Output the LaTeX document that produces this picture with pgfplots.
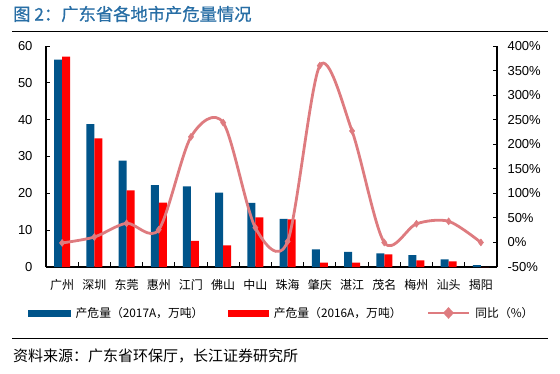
\documentclass[border=0pt]{standalone}
\usepackage{pgfplots}
\pgfplotsset{compat=1.18}
\usepackage{fontspec}
\setmainfont{Liberation Sans}
\newfontfamily\cjk{Noto Sans CJK SC}
\newfontfamily\cjktitle[FakeBold=0.8]{Noto Sans CJK SC}
\definecolor{barblue}{RGB}{0,84,138}
\definecolor{barred}{RGB}{255,0,0}
\definecolor{linec}{RGB}{222,123,127}
\definecolor{titleblue}{RGB}{40,110,165}
\pgfplotstableread{
x b17 r16 g
0 56.3 57.1 -1
1 38.8 34.9 11
2 28.9 20.8 39
3 22.2 17.5 26
4 21.9 7.1 215
5 20.2 5.9 244
6 17.4 13.5 30
7 13.1 12.9 2
8 4.8 1.2 360
9 4.1 1.2 227
10 3.7 3.4 0
11 3.2 1.8 38
12 2.1 1.5 43
13 0.5 0.0 0
}\datatable
\begin{document}
\begin{tikzpicture}
\path (0pt,0pt) rectangle (560pt,373pt);
\node[anchor=west, font=\cjktitle\fontsize{17.3}{19}\selectfont, text=titleblue, inner sep=0] at (13pt,359pt) {图 2：广东省各地市产危量情况};
\draw[line width=1.5pt] (12pt,341.5pt) -- (548pt,341.5pt);
\draw[line width=0.9pt] (12pt,35pt) -- (548pt,35pt);
\node[anchor=west, font=\cjk\fontsize{15}{17}\selectfont, inner sep=0] at (13pt,17pt) {资料来源：广东省环保厅，长江证券研究所};
\begin{axis}[at={(46pt,106pt)}, anchor=south west, scale only axis,
  width=451pt, height=221pt,
  xmin=-0.5, xmax=13.5, ymin=0, ymax=60, ytick={0,10,...,60},
  axis x line*=bottom, axis y line*=left,
  axis line style={line width=1.2pt, -},
  xtick={0,...,13},
  xticklabels={广州,深圳,东莞,惠州,江门,佛山,中山,珠海,肇庆,湛江,茂名,梅州,汕头,揭阳},
  major x tick style={draw=none},
  minor xtick={0.5,1.5,...,12.5},
  minor x tick style={line width=1pt, black},
  minor tick length=5pt,
  major tick length=4pt,
  y tick style={line width=1pt, black},
  tick align=inside,
  xticklabel style={font=\cjk\fontsize{12}{14}\selectfont, yshift=-9pt},
  yticklabel style={font=\fontsize{13}{15}\selectfont, xshift=-10pt},
  /pgf/number format/assume math mode=true,
  clip=false]
\addplot[ybar, bar width=8pt, bar shift=-4pt, fill=barblue, draw=none] table[x=x,y=b17] {\datatable};
\addplot[ybar, bar width=8pt, bar shift=4pt, fill=barred, draw=none] table[x=x,y=r16] {\datatable};
\end{axis}
\begin{axis}[at={(46pt,106pt)}, anchor=south west, scale only axis,
  width=451pt, height=221pt,
  xmin=-0.5, xmax=13.5, ymin=-50, ymax=400, ytick={-50,0,...,400},
  axis x line=none, axis y line*=right,
  axis line style={line width=1.2pt, -},
  y tick style={line width=1pt, black},
  tick align=inside, major tick length=4pt,
  yticklabel={\pgfmathprintnumber{\tick}\%},
  yticklabel style={font=\fontsize{13}{15}\selectfont, xshift=7pt},
  /pgf/number format/assume math mode=true,
  legend columns=3,
  legend style={at={(0.523,-0.208)}, anchor=center, draw=none, fill=none,
    font=\cjk\fontsize{11.8}{14}\selectfont,
    /tikz/every odd column/.append style={column sep=3pt},
    /tikz/every even column/.append style={column sep=23pt}},
  clip=false]
\addlegendimage{legend image code/.code={\fill[barblue] (0pt,-3pt) rectangle (42pt,3pt);}}
\addlegendentry{产危量（2017A，万吨）}
\addlegendimage{legend image code/.code={\fill[barred] (0pt,-3pt) rectangle (40pt,3pt);}}
\addlegendentry{产危量（2016A，万吨）}
\addplot[color=linec, line width=2.8pt, smooth, tension=0.5, mark=diamond*, mark size=3.5pt,
  mark options={solid, line width=0.5pt},
  legend image code/.code={\draw[linec, line width=2.8pt] (0pt,0pt) -- (41pt,0pt);
    \fill[linec] (20.5pt,3.8pt) -- (24pt,0pt) -- (20.5pt,-3.8pt) -- (17pt,0pt) -- cycle;}]
  table[x=x,y=g] {\datatable};
\addlegendentry{同比（\%）}
\end{axis}
\end{tikzpicture}
\end{document}
